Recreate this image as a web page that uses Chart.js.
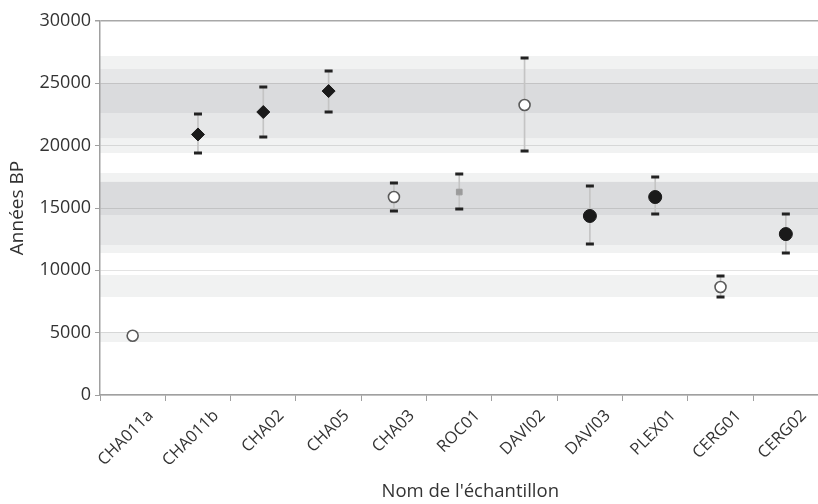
<!DOCTYPE html>
<html>
<head>
<meta charset="utf-8">
<script src="https://cdn.jsdelivr.net/npm/chart.js@4.4.1/dist/chart.umd.min.js"></script>
<style>
html,body{margin:0;padding:0;background:#fff;overflow:hidden;width:818px;height:504px;}
#wrap{width:826px;height:504px;}
</style>
</head>
<body>
<div id="wrap"><canvas id="c" width="826" height="504"></canvas></div>
<script>
// ---- data ----
const categories = ['CHA011a','CHA011b','CHA02','CHA05','CHA03','ROC01','DAVI02','DAVI03','PLEX01','CERG01','CERG02'];
const ages        = [4750, 20900, 22700, 24380, 15880, 16280, 23260, 14360, 15880, 8660, 12910];
const lowerBounds = [null, 19410, 20700, 22700, 14760, 14920, 19570, 12110, 14520, 7860, 11390];
const upperBounds = [null, 22540, 24700, 25990, 17000, 17730, 27030, 16760, 17490, 9545, 14520];
const markerGroups = ['open','diamond','diamond','diamond','open','square','open','filled','filled','open','filled'];

const bandLows   = [19410, 20610, 22620, 11390, 12030, 14440, 7860, 4250];
const bandHighs  = [27190, 26150, 25020, 17810, 17090, 17090, 9625, 5050];
const bandLevels = ['outer','middle','inner','outer','middle','inner','outer','outer'];

const yTicks = [0, 5000, 10000, 15000, 20000, 25000, 30000];
const xTitle = "Nom de l'échantillon";
const yTitle = 'Années BP';

// ---- styles ----
const bandColors = {outer:'#f1f2f2', middle:'#e6e7e8', inner:'#dadbdd'};
const markerStyles = {
  open:    {pointStyle:'circle',  bg:'#ffffff', border:'#5a5a5a', bw:1.6, r:5.5},
  diamond: {pointStyle:'rectRot', bg:'#1a1a1a', border:'#1a1a1a', bw:1,   r:6.5},
  filled:  {pointStyle:'circle',  bg:'#1a1a1a', border:'#1a1a1a', bw:1,   r:6.5},
  square:  {pointStyle:'rect',    bg:'#9b9b9b', border:'#9b9b9b', bw:1,   r:4}
};
const FONT = 'Open Sans';
const TEXT = '#333';

const bandPlugin = {
  id:'bands',
  beforeDraw(chart){
    const {ctx, chartArea:a, scales:{y}} = chart;
    ctx.save();
    ctx.beginPath(); ctx.rect(a.left, a.top, a.right - a.left, a.bottom - a.top); ctx.clip();
    bandLows.forEach((lo, i) => {
      const y1 = y.getPixelForValue(bandHighs[i]);
      const y2 = y.getPixelForValue(lo);
      ctx.fillStyle = bandColors[bandLevels[i]];
      ctx.fillRect(a.left, y1, a.right - a.left, y2 - y1);
    });
    ctx.restore();
  },
  afterDraw(chart){
    const {ctx, scales:{x}} = chart;
    ctx.save();
    ctx.fillStyle = TEXT;
    ctx.font = '18.5px "' + FONT + '"';
    ctx.textAlign = 'center';
    ctx.textBaseline = 'middle';
    ctx.fillText(xTitle, (x.left + x.right) / 2 + 11, 492);
    ctx.restore();
  }
};

const errorRanges = lowerBounds.map((lo, i) => lo == null ? null : [lo, upperBounds[i]]);

new Chart(document.getElementById('c'), {
  data: {
    labels: categories,
    datasets: [
      {type:'bar', data: errorRanges, backgroundColor:'#c4c4c4', barThickness:1, order:3, grouped:false},
      {type:'line', data: lowerBounds, showLine:false, pointStyle:'line', pointRadius:4, pointBorderWidth:3, pointBorderColor:'#222', pointBackgroundColor:'#222', order:2},
      {type:'line', data: upperBounds, showLine:false, pointStyle:'line', pointRadius:4, pointBorderWidth:3, pointBorderColor:'#222', pointBackgroundColor:'#222', order:2},
      {type:'line', data: ages, showLine:false, order:1,
        pointStyle: c => markerStyles[markerGroups[c.dataIndex]].pointStyle,
        pointRadius: c => markerStyles[markerGroups[c.dataIndex]].r,
        pointBackgroundColor: c => markerStyles[markerGroups[c.dataIndex]].bg,
        pointBorderColor: c => markerStyles[markerGroups[c.dataIndex]].border,
        pointBorderWidth: c => markerStyles[markerGroups[c.dataIndex]].bw
      }
    ]
  },
  options: {
    responsive:false,
    animation:false,
    events:[],
    layout:{padding:{left:0, top:21, right:2, bottom:0}},
    plugins:{legend:{display:false}, tooltip:{enabled:false}},
    scales:{
      x:{
        type:'category',
        offset:true,
        grid:{offset:true, drawOnChartArea:false, drawTicks:true, tickLength:6, tickColor:'#a0a0a0'},
        border:{color:'#a0a0a0', width:1.5},
        ticks:{color:TEXT, font:{family:FONT, size:16.5}, minRotation:45, maxRotation:45, autoSkip:false, padding:5, labelOffset:18},
        title:{display:false},
        afterFit(s){ s.height = 109; }
      },
      y:{
        min:0, max:30000,
        afterBuildTicks(s){ s.ticks = yTicks.map(v => ({value:v})); },
        grid:{color: c => c.tick && c.tick.value === 30000 ? '#a8a8a8' : 'rgba(0,0,0,0.11)', lineWidth: c => c.tick && c.tick.value === 30000 ? 1.5 : 1, tickLength:5, tickColor:'#a0a0a0'},
        border:{color:'#a0a0a0', width:1.5},
        ticks:{color:TEXT, font:{family:FONT, size:18}, padding:4, callback: v => String(v)},
        title:{display:true, text:yTitle, color:TEXT, font:{family:FONT, size:19}, padding:{top:6,bottom:0}},
        afterFit(s){ s.width = 100; }
      }
    }
  },
  plugins:[bandPlugin]
});
</script>
</body>
</html>
